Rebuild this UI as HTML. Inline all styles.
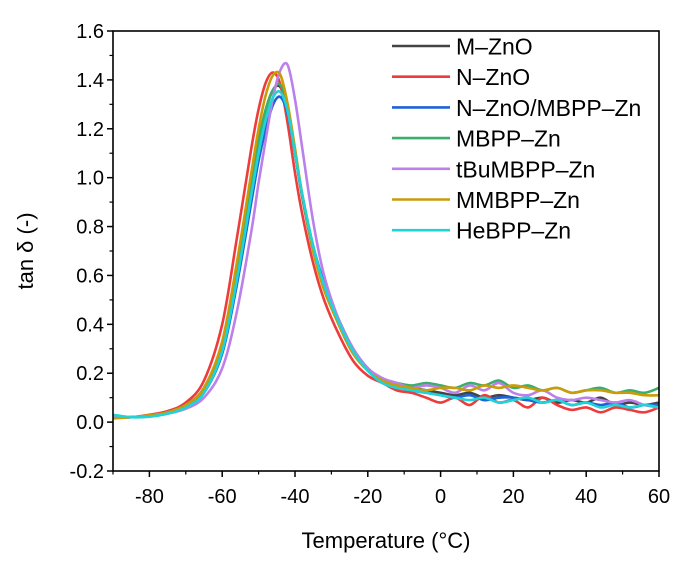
<!DOCTYPE html>
<html><head><meta charset="utf-8"><style>
body{margin:0;background:#fff;}
svg{display:block;font-family:"Liberation Sans",Arial,sans-serif;}
</style></head><body>
<svg id="chart" width="687" height="563" viewBox="0 0 687 563" xmlns="http://www.w3.org/2000/svg">
<g id="series"></g>
<g id="axes"></g>
<g id="legend"></g>
<text x="386" y="548" font-size="22" text-anchor="middle">Temperature (°C)</text>
<text transform="translate(33,251) rotate(-90)" font-size="22" text-anchor="middle">tan δ (-)</text>
</svg>
<script>
const temps = [-90,-85,-80,-75,-70,-65,-60,-56,-52,-50,-48,-46,-44,-42,-40,-38,-35,-32,-28,-24,-20,-16,-12,-8,-4,0,4,8,12,16,20,24,28,32,36,40,44,48,52,56,60];
const seriesNames = ["M–ZnO","N–ZnO","N–ZnO/MBPP–Zn","MBPP–Zn","tBuMBPP–Zn","MMBPP–Zn","HeBPP–Zn"];
const mZnO = [.02,.02,.025,.04,.07,.14,.32,.62,.98,1.15,1.28,1.36,1.37,1.28,1.1,.92,.7,.55,.4,.28,.22,.17,.15,.14,.13,.12,.11,.12,.1,.11,.1,.09,.1,.08,.09,.08,.1,.07,.08,.07,.08];
const nZnO = [.02,.02,.03,.045,.08,.17,.4,.75,1.12,1.28,1.39,1.43,1.38,1.22,1.02,.85,.65,.5,.36,.25,.19,.16,.13,.12,.1,.08,.1,.07,.11,.08,.09,.06,.1,.07,.05,.06,.04,.06,.05,.04,.06];
const nZnOMbpp = [.02,.02,.025,.035,.06,.12,.28,.56,.9,1.07,1.2,1.3,1.33,1.26,1.1,.93,.72,.57,.42,.3,.22,.17,.15,.13,.12,.11,.1,.11,.09,.1,.1,.09,.08,.09,.07,.08,.07,.08,.06,.07,.07];
const mbpp = [.02,.02,.025,.04,.07,.14,.32,.62,.98,1.15,1.28,1.36,1.38,1.29,1.1,.93,.71,.56,.41,.29,.22,.17,.16,.15,.16,.15,.14,.16,.15,.17,.14,.15,.13,.14,.12,.13,.14,.12,.13,.12,.14];
const tbu = [.02,.02,.025,.035,.055,.1,.22,.45,.78,.98,1.16,1.33,1.44,1.46,1.32,1.12,.82,.6,.42,.3,.22,.18,.16,.14,.15,.14,.12,.15,.13,.16,.12,.11,.13,.1,.09,.1,.09,.08,.09,.07,.06];
const mmbpp = [.015,.02,.028,.04,.07,.14,.33,.65,1.02,1.2,1.34,1.42,1.42,1.3,1.12,.93,.7,.54,.4,.28,.21,.17,.15,.14,.13,.14,.14,.13,.15,.14,.15,.14,.13,.14,.12,.13,.13,.12,.12,.11,.11];
const hebpp = [.03,.02,.022,.035,.06,.12,.29,.58,.93,1.1,1.24,1.33,1.35,1.27,1.1,.93,.72,.56,.41,.29,.21,.16,.14,.13,.12,.11,.1,.09,.1,.08,.09,.1,.08,.09,.07,.08,.06,.07,.06,.07,.06];
const seriesValues = [mZnO,nZnO,nZnOMbpp,mbpp,tbu,mmbpp,hebpp];
const colors = ["#444444","#ee3b3b","#1e63d8","#3aae6a","#bb80ea","#c99c08","#1fd3d6"];
const xTicks = [-80,-60,-40,-20,0,20,40,60];
const yTicks = [-0.2,0.0,0.2,0.4,0.6,0.8,1.0,1.2,1.4,1.6];

const L=113,R=659,T=31,B=471;
const xMin=-90,xMax=60,yMin=-0.2,yMax=1.6;
const xs=v=>L+(v-xMin)/(xMax-xMin)*(R-L);
const ys=v=>B-(v-yMin)/(yMax-yMin)*(B-T);
const NS="http://www.w3.org/2000/svg";
function mk(tag,attrs,parent){const e=document.createElementNS(NS,tag);for(const k in attrs)e.setAttribute(k,attrs[k]);parent.appendChild(e);return e;}

const sg=document.getElementById('series');
seriesValues.forEach((vals,si)=>{
  const p=temps.map((t,i)=>[xs(t),ys(vals[i])]);
  let d=`M${p[0][0]},${p[0][1]}`;
  for(let i=0;i<p.length-1;i++){
    const p0=p[Math.max(0,i-1)],p1=p[i],p2=p[i+1],p3=p[Math.min(p.length-1,i+2)];
    const c1=[p1[0]+(p2[0]-p0[0])/6,p1[1]+(p2[1]-p0[1])/6];
    const c2=[p2[0]-(p3[0]-p1[0])/6,p2[1]-(p3[1]-p1[1])/6];
    d+=` C${c1[0]},${c1[1]} ${c2[0]},${c2[1]} ${p2[0]},${p2[1]}`;
  }
  const path=mk('path',{d:d,fill:'none',stroke:colors[si],'stroke-width':2.6,'stroke-linejoin':'round'},sg);
  
  
});

const ag=document.getElementById('axes');
const frame=mk('rect',{x:L,y:T,width:R-L,height:B-T,fill:'none',stroke:'#000','stroke-width':1.6},ag);


xTicks.forEach(t=>{
  const x=xs(t);
  mk('line',{x1:x,y1:B,x2:x,y2:B+6,stroke:'#000','stroke-width':1.5},ag);
  const mx=xs(t-10); if(t-10>=xMin) mk('line',{x1:mx,y1:B,x2:mx,y2:B+3.5,stroke:'#000','stroke-width':1.2},ag);
  const lb=mk('text',{x:x,y:503,'font-size':20,'text-anchor':'middle'},ag);
  lb.textContent=t;
  
  
});
yTicks.forEach((t,i)=>{
  const y=ys(t);
  mk('line',{x1:L-6,y1:y,x2:L,y2:y,stroke:'#000','stroke-width':1.5},ag);
  if(i<yTicks.length-1){const my=ys(t+0.1);mk('line',{x1:L-3.5,y1:my,x2:L,y2:my,stroke:'#000','stroke-width':1.2},ag);}
  const lb=mk('text',{x:L-9,y:y+7,'font-size':20,'text-anchor':'end'},ag);
  lb.textContent=t.toFixed(1);
  
  
});

const lg=document.getElementById('legend');
seriesNames.forEach((n,i)=>{
  const y=46+i*30.7;
  const ln=mk('line',{x1:392,y1:y,x2:450,y2:y,stroke:colors[i],'stroke-width':2.6},lg);
  
  
  const tx=mk('text',{x:456,y:y+8.5,'font-size':23},lg);
  tx.textContent=n;
  
  
});
</script>
</body></html>
